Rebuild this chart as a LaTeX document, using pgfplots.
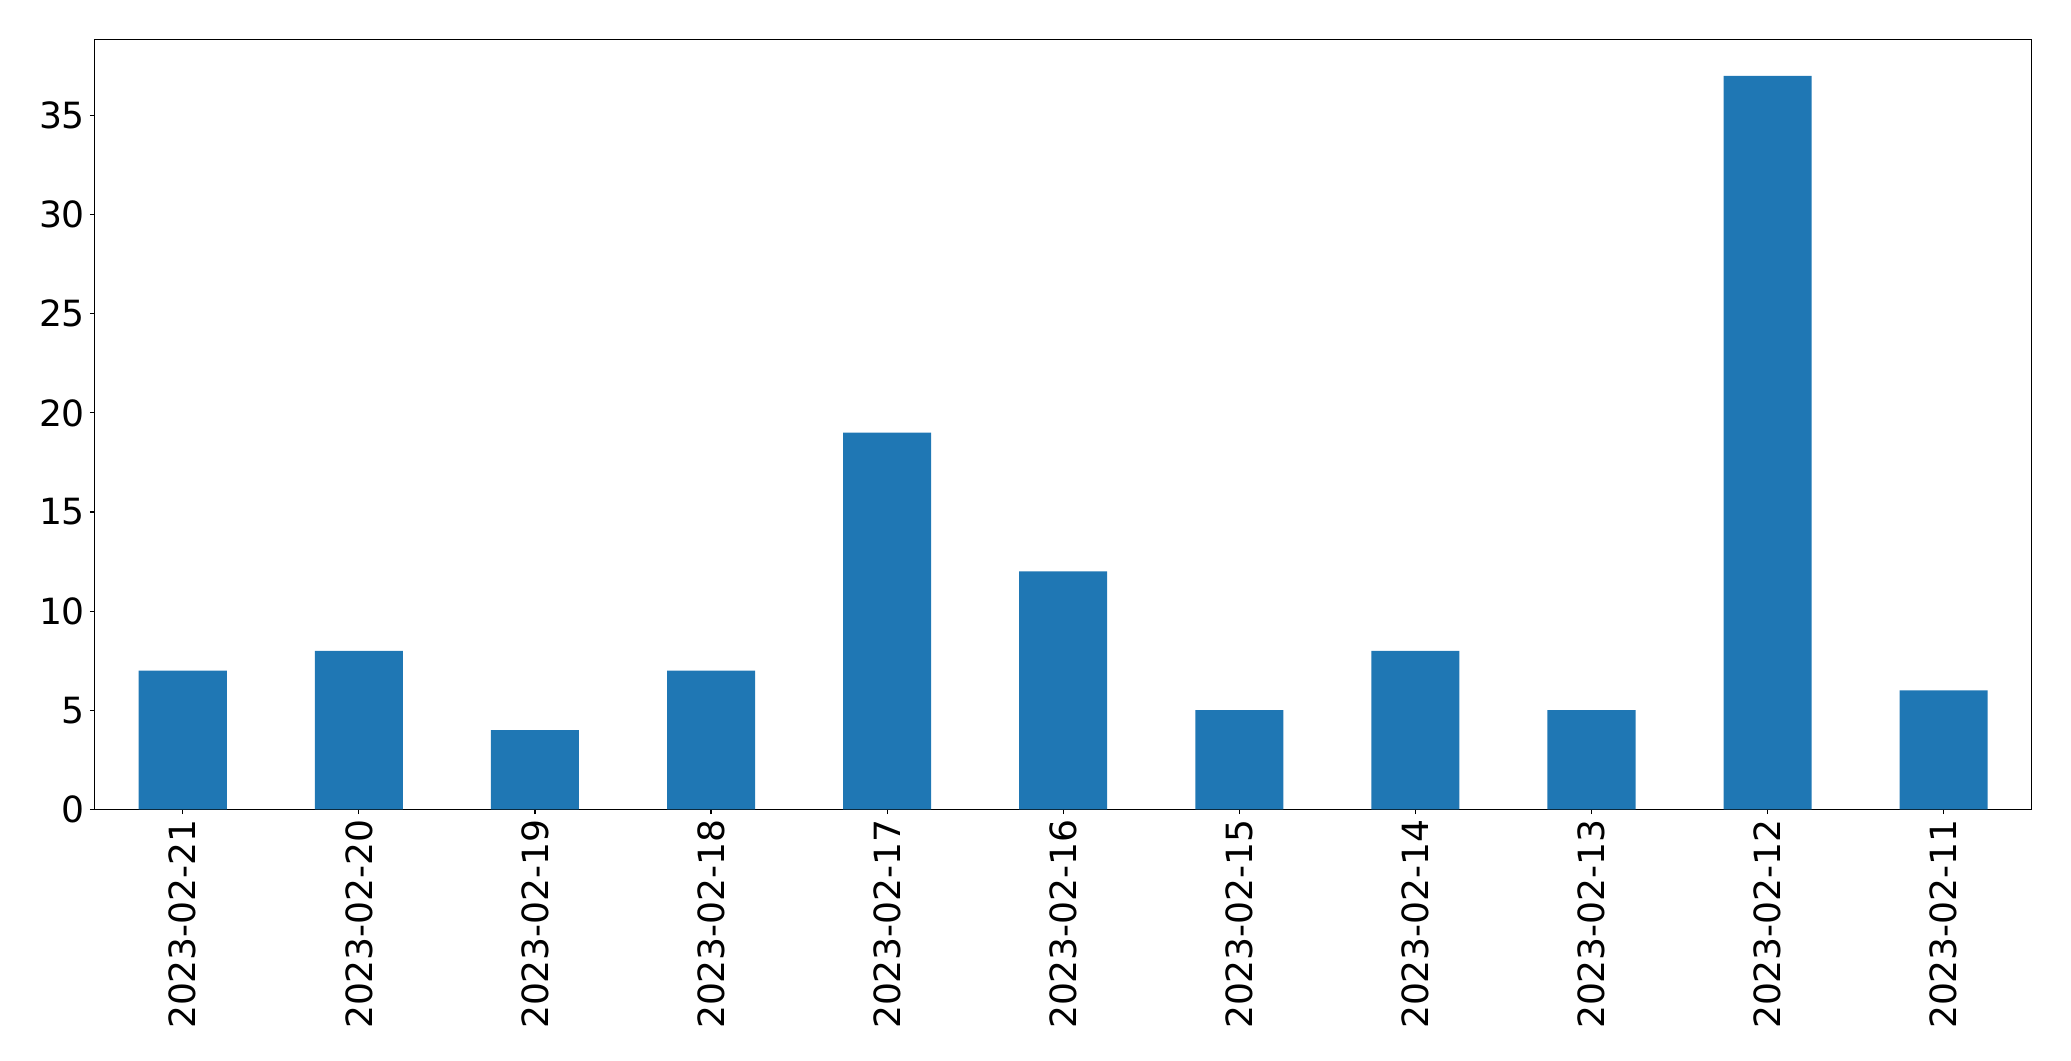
\documentclass[border=0pt]{standalone}
\usepackage{fontspec}
\setmainfont{DejaVu Sans}
\usepackage{pgfplots}
\pgfplotsset{compat=1.18}
\definecolor{mplblue}{HTML}{1F77B4}

\begin{document}
\begin{tikzpicture}
\begin{axis}[
    name=ax,
    width=1394.6pt, height=554.4pt,
    scale only axis,
    xmin=-0.5, xmax=10.5,
    ymin=0, ymax=38.85,
    xtick={0,...,10},
    xticklabels={2023-02-21,2023-02-20,2023-02-19,2023-02-18,2023-02-17,2023-02-16,2023-02-15,2023-02-14,2023-02-13,2023-02-12,2023-02-11},
    ytick={0,5,...,35},
    tick align=outside,
    tick pos=left,
    major tick length=3.5pt,
    tick style={black, line width=0.8pt},
    axis line style={line width=0.8pt},
    x tick label style={rotate=90, anchor=east},
    tick label style={font=\fontsize{26}{31}\selectfont},
    /pgf/number format/assume math mode=true,
    ybar, bar width=0.5,
]
\addplot[fill=mplblue, draw=none] coordinates {
    (0,7) (1,8) (2,4) (3,7) (4,19) (5,12) (6,5) (7,8) (8,5) (9,37) (10,6)
};
\end{axis}
\pgfresetboundingbox
\path ([shift={(-68.2pt,-181.2pt)}]ax.south west) rectangle ([shift={(28.3pt,28.3pt)}]ax.north east);
\end{tikzpicture}
\end{document}
